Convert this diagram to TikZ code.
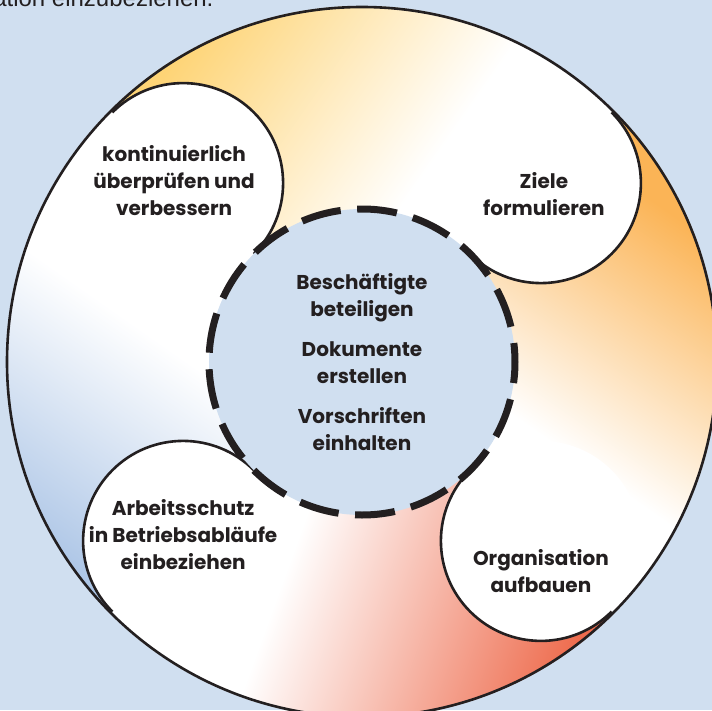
\documentclass[tikz,border=0pt]{standalone}
\usepackage{fontspec}
\setmainfont{Poppins}
\newfontfamily\notefont{Liberation Sans}
\usetikzlibrary{positioning}

\definecolor{bgblue}{RGB}{208,223,240}
\definecolor{ink}{RGB}{35,31,32}
\definecolor{topcol}{RGB}{254,212,118}
\definecolor{rightcol}{RGB}{251,180,86}
\definecolor{bottomcol}{RGB}{238,108,78}
\definecolor{leftcol}{RGB}{172,197,230}

\pgfdeclarehorizontalshading{segtop}{100bp}{color(0bp)=(topcol); color(27bp)=(topcol); color(46bp)=(white); color(100bp)=(white)}
\pgfdeclarehorizontalshading{segright}{100bp}{color(0bp)=(rightcol); color(29bp)=(rightcol); color(47bp)=(white); color(100bp)=(white)}
\pgfdeclarehorizontalshading{segbottom}{100bp}{color(0bp)=(bottomcol); color(29bp)=(bottomcol); color(50bp)=(white); color(100bp)=(white)}
\pgfdeclarehorizontalshading{segleft}{100bp}{color(0bp)=(leftcol); color(26bp)=(leftcol); color(43bp)=(white); color(100bp)=(white)}

\begin{document}
\begin{tikzpicture}
    [x=1pt,y=1pt,
    lobe/.style={circle,fill=white,inner sep=0pt,outer sep=0pt,minimum size=200pt},
    steptext/.style={align=center,text=ink,font=\bfseries\fontsize{20}{27}\selectfont},
    core/.style={circle,fill=bgblue,draw=ink,line width=7pt,
    dash pattern=on 40pt off 16.55pt,dash phase=21pt,
    inner sep=0pt,outer sep=0pt,minimum size=306pt},
    ringline/.style={draw=ink,line width=2.6pt}]
    \useasboundingbox (-362,-348) rectangle (350,362);
    \fill[bgblue] (-362,-348) rectangle (350,362);
    \node[anchor=base east,text=ink,font=\notefont\fontsize{24}{28}\selectfont] (note) at (-145,355.5) {ation einzubeziehen.};
    \node[circle,fill=white,inner sep=0pt,outer sep=0pt,minimum size=710pt] (ring) at (0,0) {};
    % coloured tails
    \foreach \a/\shd/\tilt in {90/segtop/-35,0/segright/-125,-90/segbottom/-200,-180/segleft/-305}{
      \begin{scope}
        \clip ({\a+45}:356) arc[start angle=\a+45,end angle=\a-45,radius=356]
          -- ({\a-45}:150) arc[start angle=\a-45,end angle=\a+45,radius=150] -- cycle;
        \begin{scope}[transform canvas={rotate=\tilt}]
          \shade[shading=\shd] (-356,-356) rectangle (356,356);
        \end{scope}
      \end{scope}
    }
    % heads
    \node[lobe] (klobe) at (135:253) {};
    \node[lobe] (zlobe) at (45:253) {};
    \node[lobe] (olobe) at (-45:253) {};
    \node[lobe] (alobe) at (-135:253) {};
    \draw[ringline] (klobe.135) arc[start angle=135,end angle=-45,radius=100];
    \draw[ringline] (zlobe.45) arc[start angle=45,end angle=-135,radius=100];
    \draw[ringline] (olobe.-45) arc[start angle=-45,end angle=-225,radius=100];
    \draw[ringline] (alobe.-135) arc[start angle=-135,end angle=-315,radius=100];
    \draw[ringline] (ring.center) circle[radius=355];
    \node[steptext,xshift=-9pt,yshift=3pt] (kont) at (klobe) {kontinuierlich\\überprüfen und\\verbessern};
    \node[steptext,xshift=3pt,yshift=-11pt] (ziele) at (zlobe) {Ziele\\formulieren};
    \node[steptext,yshift=-30pt] (orga) at (olobe) {Organisation\\aufbauen};
    \node[steptext,yshift=6pt] (arbeit) at (alobe) {Arbeitsschutz\\in Betriebsabläufe\\einbeziehen};
    \node[core,steptext] (core) at (0,0) {Beschäftigte\\beteiligen\\[13pt]Dokumente\\erstellen\\[13pt]Vorschriften\\einhalten};
\end{tikzpicture}
\end{document}
